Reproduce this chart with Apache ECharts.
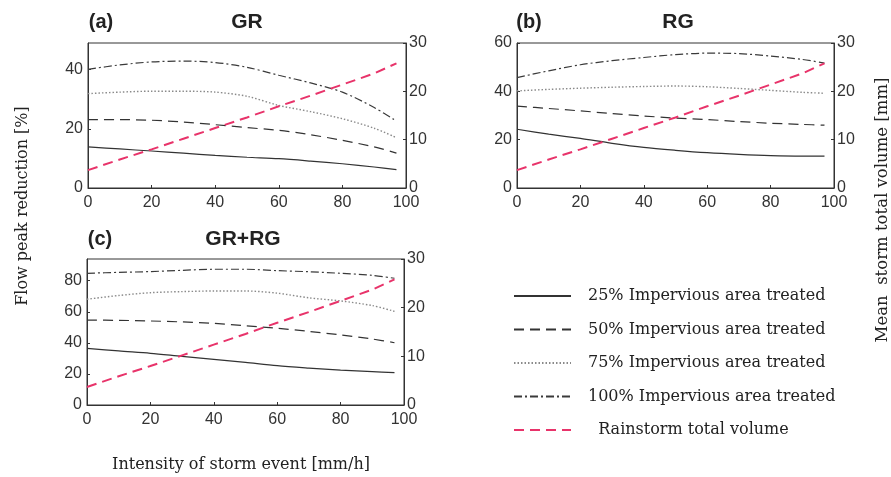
<!DOCTYPE html>
<html><head><meta charset="utf-8">
<script src="https://cdn.jsdelivr.net/npm/echarts@6/dist/echarts.min.js"></script>
<style>html,body{margin:0;padding:0;background:#fff}#c{width:891px;height:477px}</style>
</head><body><div id="c"></div><script>
// ---- data ----
const intensity = [0, 10, 20, 30, 40, 50, 60, 70, 80, 90, 97];
const xTicks = [0, 20, 40, 60, 80, 100];
const rightTicks = [0, 10, 20, 30];
const panelTitles = ['GR', 'RG', 'GR+RG'];
const panelLetters = ['(a)', '(b)', '(c)'];
const seriesNames = ['25% Impervious area treated', '50% Impervious area treated', '75% Impervious area treated', '100% Impervious area treated', 'Rainstorm total volume'];
const leftMax = [49, 60, 94];

const rainVolume = [3.7, 5.9, 8.0, 10.2, 12.4, 14.6, 16.9, 19.1, 21.4, 23.7, 25.8];

const gr25  = [13.9, 13.2, 12.5, 11.8, 11.0, 10.4, 9.9, 9.1, 8.2, 7.1, 6.2];
const gr50  = [23.1, 23.1, 22.9, 22.3, 21.4, 20.4, 19.5, 18.0, 16.1, 13.9, 11.8];
const gr75  = [31.9, 32.4, 32.7, 32.7, 32.4, 31.0, 27.9, 25.8, 23.4, 20.2, 17.0];
const gr100 = [40.1, 41.6, 42.6, 42.9, 42.4, 40.8, 38.1, 35.5, 32.4, 27.2, 22.6];

const rg25  = [24.3, 22.3, 20.5, 18.5, 16.8, 15.6, 14.6, 13.9, 13.4, 13.2, 13.2];
const rg50  = [33.9, 32.9, 31.9, 30.8, 29.8, 28.9, 28.3, 27.5, 26.8, 26.3, 26.0];
const rg75  = [40.2, 40.8, 41.3, 41.7, 42.0, 42.2, 41.9, 41.2, 40.4, 39.6, 39.2];
const rg100 = [45.7, 48.5, 51.0, 52.7, 54.0, 55.2, 55.8, 55.6, 54.6, 53.2, 51.7];

const both25  = [36.5, 34.8, 33.3, 31.3, 29.4, 27.4, 25.3, 23.8, 22.5, 21.5, 20.8];
const both50  = [54.7, 54.5, 54.1, 53.5, 52.6, 51.0, 49.4, 47.4, 45.1, 42.5, 40.1];
const both75  = [68.1, 70.5, 72.3, 73.0, 73.4, 73.4, 72.0, 69.0, 67.0, 64.0, 60.3];
const both100 = [84.8, 85.4, 85.9, 86.7, 87.4, 87.4, 86.5, 85.8, 84.8, 83.5, 81.6];

const panels = [
  [gr25, gr50, gr75, gr100],
  [rg25, rg50, rg75, rg100],
  [both25, both50, both75, both100]
];

// ---- layout / style ----
const grids = [
  {left: 88, top: 43, width: 318, height: 145},
  {left: 517, top: 43, width: 317, height: 145},
  {left: 87, top: 259, width: 317, height: 146}
];
const styles = [
  {color: '#333', width: 1.2, type: 'solid'},
  {color: '#333', width: 1.2, type: [10, 6]},
  {color: '#8a8a8a', width: 1.4, type: [1.5, 2]},
  {color: '#3a3a3a', width: 1.2, type: [8, 3, 2, 3]},
  {color: '#e8336a', width: 2, type: [10, 6]}
];
const tickFont = {fontFamily: 'Liberation Sans', fontSize: 16, color: '#333'};
const serif = 'DejaVu Serif';

const chart = echarts.init(document.getElementById('c'), null, {renderer: 'canvas'});

const xAxes = [], yAxes = [], series = [];
grids.forEach((g, p) => {
  xAxes.push({
    gridIndex: p, type: 'value', min: xTicks[0], max: xTicks[xTicks.length - 1], interval: xTicks[1] - xTicks[0],
    axisLine: {show: true, lineStyle: {color: '#333'}},
    axisTick: {show: true, inside: true, length: 3, lineStyle: {color: '#333'}},
    axisLabel: Object.assign({margin: 7}, tickFont),
    splitLine: {show: false}
  });
  yAxes.push({
    gridIndex: p, type: 'value', position: 'left', min: 0, max: leftMax[p], interval: 20,
    axisLine: {show: true, lineStyle: {color: '#333'}},
    axisTick: {show: true, inside: true, length: 3, lineStyle: {color: '#333'}},
    axisLabel: Object.assign({margin: 5, showMaxLabel: leftMax[p] % 20 === 0}, tickFont),
    splitLine: {show: false}
  });
  yAxes.push({
    gridIndex: p, type: 'value', position: 'right', min: rightTicks[0], max: rightTicks[rightTicks.length - 1], interval: rightTicks[1] - rightTicks[0],
    axisLine: {show: true, lineStyle: {color: '#333'}},
    axisTick: {show: true, inside: true, length: 3, lineStyle: {color: '#333'}},
    axisLabel: Object.assign({margin: 3}, tickFont),
    splitLine: {show: false}
  });
  panels[p].forEach((arr, k) => {
    series.push({
      name: seriesNames[k], type: 'line', xAxisIndex: p, yAxisIndex: 2 * p,
      data: intensity.map((x, i) => [x, arr[i]]),
      smooth: 0.3, symbol: 'none', showSymbol: false, silent: true, animation: false,
      lineStyle: styles[k], itemStyle: {color: styles[k].color}, z: 3
    });
  });
  series.push({
    name: seriesNames[4], type: 'line', xAxisIndex: p, yAxisIndex: 2 * p + 1,
    data: intensity.map((x, i) => [x, rainVolume[i]]),
    symbol: 'none', showSymbol: false, silent: true, animation: false,
    lineStyle: styles[4], itemStyle: {color: styles[4].color}, z: 4
  });
});

const graphics = [];
const titleCenters = [[101, 247, 22], [529, 678, 22], [100, 243, 239]];
titleCenters.forEach((t, p) => {
  graphics.push({type: 'text', x: t[0], y: t[2], style: {text: panelLetters[p], fontFamily: 'Liberation Sans', fontWeight: 'bold', fontSize: 20, fill: '#222', textAlign: 'center', textVerticalAlign: 'middle'}});
  graphics.push({type: 'text', x: t[1], y: t[2], style: {text: panelTitles[p], fontFamily: 'Liberation Sans', fontWeight: 'bold', fontSize: 21, fill: '#222', textAlign: 'center', textVerticalAlign: 'middle'}});
});
graphics.push({type: 'text', x: 23, y: 206, rotation: Math.PI / 2, style: {text: 'Flow peak reduction [%]', fontFamily: serif, fontSize: 16, fill: '#222', textAlign: 'center', textVerticalAlign: 'middle'}});
graphics.push({type: 'text', x: 883, y: 210, rotation: Math.PI / 2, style: {text: 'Mean  storm total volume [mm]', fontFamily: serif, fontSize: 16.5, fill: '#222', textAlign: 'center', textVerticalAlign: 'middle'}});
graphics.push({type: 'text', x: 241, y: 465, style: {text: 'Intensity of storm event [mm/h]', fontFamily: serif, fontSize: 16, fill: '#222', textAlign: 'center', textVerticalAlign: 'middle'}});
graphics.push({type: 'text', x: 202, y: -3, style: {text: 'JOURNAL OF THE AMERICAN WATER RESOURCES ASSOCIATION', fontFamily: 'Liberation Sans', fontSize: 9, fill: '#3a7bd5', textAlign: 'center', textVerticalAlign: 'middle'}});

chart.setOption({
  animation: false,
  backgroundColor: '#fff',
  grid: grids.map(g => Object.assign({show: true, borderColor: '#333', borderWidth: 1, backgroundColor: 'transparent', containLabel: false, outerBoundsMode: 'none'}, g)),
  xAxis: xAxes,
  yAxis: yAxes,
  legend: {
    data: seriesNames, orient: 'vertical', left: 513, top: 288, padding: 0,
    itemWidth: 57, itemHeight: 14, itemGap: 17.5, selectedMode: false,
    itemStyle: {opacity: 0, borderWidth: 0},
    formatter: n => n === 'Rainstorm total volume' ? '  ' + n : n,
    textStyle: {fontFamily: serif, fontSize: 16, lineHeight: 14, color: '#222', padding: [0, 0, 0, 12]}
  },
  series: series,
  graphic: graphics
});
</script></body></html>
